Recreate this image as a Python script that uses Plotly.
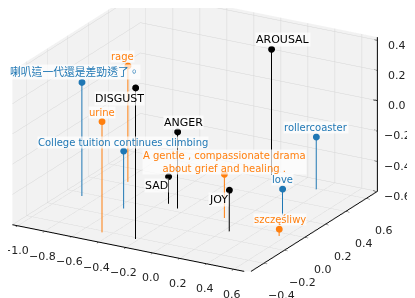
import plotly.graph_objects as go

# ---- data ----
labels = ["AROUSAL", "DISGUST", "ANGER", "SAD", "JOY",
          "喇叭這一代還是差勁透了。", "College tuition continues climbing", "rollercoaster", "love",
          "rage", "urine", "A gentle , compassionate drama<br>about grief and healing .", "szczęśliwy"]
xs = [-0.024, -0.221, -0.256, -0.349, 0.238,
      -0.903, -0.559, 0.354, 0.393,
      -0.772, -0.469, 0.092, 0.561]
ys = [0.65, -0.417, 0.039, 0.073, -0.107,
      -0.042, -0.088, 0.589, 0.208,
      0.234, -0.418, 0.037, -0.046]
zs = [0.233, 0.40, -0.093, -0.42, -0.327,
      0.153, -0.22, -0.253, -0.427,
      0.167, 0.133, -0.31, -0.553]
groups = ["anchor"] * 5 + ["blue"] * 4 + ["orange"] * 4

x_ticks = [-1.0, -0.8, -0.6, -0.4, -0.2, 0.0, 0.2, 0.4, 0.6]
y_ticks = [-0.4, -0.2, 0.0, 0.2, 0.4, 0.6]
z_ticks = [-0.6, -0.4, -0.2, 0.0, 0.2, 0.4]
x_range = [-1.04, 0.715]
y_range = [-0.54, 0.71]
z_range = [-0.6, 0.42]
z_floor = -0.6

# ---- style ----
colors = {"anchor": "black", "blue": "#1f77b4", "orange": "#ff7f0e"}
label_sizes = [11, 11, 11, 11, 11,
               10.8, 10, 10, 10,
               10, 10, 10, 10]
label_shift = [(11, -10), (-16, 11), (6, -9), (-12, 9), (-11, 9),
               (-7, -10), (-1, -9), (0, -9), (0, -9),
               (-5, -9), (0, -9), (0, -12), (1, -10)]
tick_font = dict(family="DejaVu Sans", size=11, color="#222")


def fmt(v):
    return f"{v:.1f}".replace("-", "\u2212")


fig = go.Figure()
for g in ["anchor", "blue", "orange"]:
    idx = [i for i, gg in enumerate(groups) if gg == g]
    lx, ly, lz = [], [], []
    for i in idx:
        lx += [xs[i], xs[i], None]
        ly += [ys[i], ys[i], None]
        lz += [z_floor, zs[i], None]
    fig.add_trace(go.Scatter3d(x=lx, y=ly, z=lz, mode="lines",
                               line=dict(color=colors[g], width=2),
                               hoverinfo="skip", showlegend=False))
    fig.add_trace(go.Scatter3d(x=[xs[i] for i in idx], y=[ys[i] for i in idx],
                               z=[zs[i] for i in idx], mode="markers",
                               marker=dict(color=colors[g], size=4),
                               hoverinfo="skip", showlegend=False))

# z axis drawn on the back-right edge (as in the reference), with short ticks
zx, zy, zz = [x_range[1], x_range[1], None], [y_range[1], y_range[1], None], [z_range[0], z_range[1], None]
for t in z_ticks:
    zx += [x_range[1] - 0.03, x_range[1], None]
    zy += [y_range[1], y_range[1], None]
    zz += [t, t, None]
fig.add_trace(go.Scatter3d(x=zx, y=zy, z=zz, mode="lines",
                           line=dict(color="black", width=2),
                           hoverinfo="skip", showlegend=False))

annotations = []
for i, t in enumerate(labels):
    annotations.append(dict(
        x=xs[i], y=ys[i], z=zs[i], text=t, showarrow=False,
        xshift=label_shift[i][0], yshift=-label_shift[i][1],
        font=dict(family="DejaVu Sans, Noto Sans CJK TC", size=label_sizes[i],
                  color=colors[groups[i]]),
        bgcolor="rgba(255,255,255,0.7)", borderpad=0,
    ))
for t in x_ticks:
    annotations.append(dict(x=t, y=y_range[0], z=z_range[0], text=fmt(t), showarrow=False,
                            xshift=-2, yshift=-25, font=tick_font))
for t in y_ticks:
    annotations.append(dict(x=x_range[1], y=t, z=z_range[0], text=fmt(t), showarrow=False,
                            xshift=18, yshift=-32, font=tick_font))
for t in z_ticks:
    annotations.append(dict(x=x_range[1], y=y_range[1], z=t, text=fmt(t), showarrow=False,
                            xshift=20, yshift=-5, font=tick_font))

axis_common = dict(
    showbackground=True, backgroundcolor="rgb(242,242,242)",
    gridcolor="rgb(214,214,214)", gridwidth=1,
    showline=True, linecolor="black", linewidth=2,
    ticks="outside", tickcolor="black", ticklen=4,
    showticklabels=False,
    title=dict(text=""), showspikes=False, zeroline=False,
)

eye_dir = (0.459, -0.814, 0.357)
eye_dist = 0.92
cam_center = (0.153, 0.010, -0.162)

fig.update_layout(
    width=415, height=298,
    margin=dict(l=0, r=0, t=0, b=0),
    paper_bgcolor="white",
    scene=dict(
        xaxis=dict(range=x_range, tickvals=x_ticks, **axis_common),
        yaxis=dict(range=y_range, tickvals=y_ticks, **axis_common),
        zaxis=dict(range=z_range, tickvals=z_ticks,
                   **{**axis_common, "ticks": "", "showline": False}),
        aspectmode="manual", aspectratio=dict(x=1.826, y=1.75, z=1.108),
        camera=dict(eye=dict(x=cam_center[0] + eye_dir[0] * eye_dist,
                             y=cam_center[1] + eye_dir[1] * eye_dist,
                             z=cam_center[2] + eye_dir[2] * eye_dist),
                    center=dict(x=cam_center[0], y=cam_center[1], z=cam_center[2]),
                    up=dict(x=0, y=0, z=1), projection=dict(type="orthographic")),
        annotations=annotations,
        domain=dict(x=[0, 1], y=[0, 1]),
    ),
)

fig.write_html("out.html", config={"displayModeBar": False})
